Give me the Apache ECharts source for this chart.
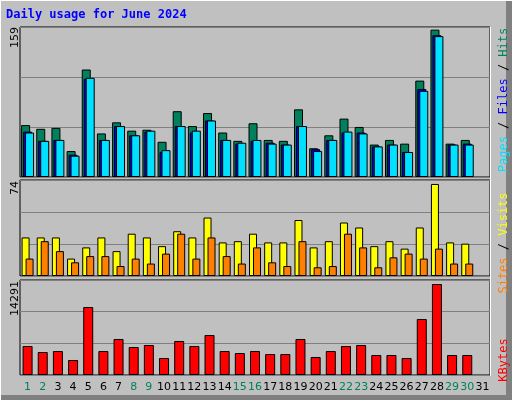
<!DOCTYPE html>
<html><head><meta charset="utf-8">
<script src="https://cdn.jsdelivr.net/npm/echarts@6/dist/echarts.min.js"></script>
<style>html,body{margin:0;padding:0;background:#C0C0C0}#c{width:512px;height:400px}</style>
</head><body><div id="c"></div>
<script>
'use strict';

const days = Array.from({ length: 31 }, (_, i) => String(i + 1));
const weekends = [1, 2, 8, 9, 15, 16, 22, 23, 29, 30];

const hits = [56, 52, 53, 28, 116, 47, 59, 50, 51, 38, 71, 55, 69, 48, 39, 58, 40, 39, 73, 31, 45, 63, 54, 35, 40, 36, 104, 159, 36, 40, null];
const files = [49, 39, 40, 24, 106, 40, 55, 45, 49, 27, 55, 48, 61, 40, 36, 39, 37, 35, 55, 30, 40, 48, 48, 33, 35, 27, 95, 153, 35, 36, null];
const pages = [48, 39, 40, 23, 107, 40, 55, 45, 50, 29, 55, 50, 61, 40, 37, 40, 36, 35, 55, 28, 40, 49, 47, 33, 35, 27, 93, 152, 35, 35, null];
const visits = [31, 31, 31, 14, 23, 31, 20, 34, 31, 24, 36, 31, 47, 27, 28, 34, 27, 27, 45, 23, 28, 43, 39, 24, 28, 22, 39, 74, 27, 26, null];
const sites = [14, 28, 20, 11, 16, 16, 8, 14, 10, 18, 34, 14, 31, 16, 10, 23, 11, 8, 28, 7, 8, 34, 23, 7, 15, 18, 14, 22, 10, 10, null];
const kbytes = [4554, 3612, 3769, 2356, 10679, 3769, 5654, 4397, 4712, 2670, 5340, 4554, 6282, 3769, 3455, 3769, 3298, 3298, 5654, 2827, 3769, 4554, 4712, 3141, 3141, 2670, 8795, 14291, 3141, 3141, null];

const maxTop = Math.max(...hits.filter((v) => v != null));
const maxMid = Math.max(...visits.filter((v) => v != null));
const maxBot = Math.max(...kbytes.filter((v) => v != null));

const font = 'DejaVu Sans Mono';
const edge = { color: '#000', width: 1 };

function xAxis(idx, showLabels) {
    return {
        type: 'category', gridIndex: idx, data: days,
        axisLine: { show: false }, axisTick: { show: false },
        axisLabel: {
            show: showLabels, interval: 0, fontSize: 11, fontFamily: 'DejaVu Sans', margin: 7,
            color: (v) => (weekends.includes(+v) ? '#00805c' : '#000'),
        },
    };
}

function yAxis(idx, max) {
    return {
        type: 'value', gridIndex: idx, min: 0, max: max, interval: max / 3,
        axisLabel: { show: false }, axisLine: { show: false }, axisTick: { show: false },
        splitLine: { lineStyle: { color: '#808080', width: 1 } },
    };
}

function bar(name, data, color, idx, width, gap) {
    return {
        name: name, type: 'bar', data: data, xAxisIndex: idx, yAxisIndex: idx,
        barWidth: width, barGap: gap, animation: false,
        itemStyle: { color: color, borderColor: '#000', borderWidth: 1 },
    };
}

function sideLabel(y, parts) {
    return {
        type: 'text', x: 504, y: y, rotation: Math.PI / 2,
        style: {
            text: parts.map((p, i) => '{s' + i + '|' + p[0] + '}').join(''),
            rich: Object.fromEntries(parts.map((p, i) => ['s' + i, { fill: p[1], fontFamily: font, fontSize: 12 }])),
            align: 'center', verticalAlign: 'middle',
        },
    };
}

function maxLabel(y, v) {
    return {
        type: 'text', x: 15, y: y, rotation: Math.PI / 2,
        style: { text: String(v), fill: '#000', fontFamily: 'DejaVu Sans', fontSize: 11, align: 'right', verticalAlign: 'middle' },
    };
}

const chart = echarts.init(document.getElementById('c'), null, { renderer: 'canvas' });
chart.setOption({
    backgroundColor: '#C0C0C0',
    animation: false,
    grid: [
        { left: 20, top: 27, width: 470, height: 150, show: true, backgroundColor: '#C0C0C0', borderColor: '#000' },
        { left: 20, top: 180, width: 470, height: 96, show: true, backgroundColor: '#C0C0C0', borderColor: '#000' },
        { left: 20, top: 280, width: 470, height: 95, show: true, backgroundColor: '#C0C0C0', borderColor: '#000' },
    ],
    xAxis: [xAxis(0, false), xAxis(1, false), xAxis(2, true)],
    yAxis: [yAxis(0, maxTop * 1.018), yAxis(1, maxMid * 1.043), yAxis(2, maxBot * 1.044)],
    series: [
        bar('Hits', hits, '#00805c', 0, 9, '-78%'),
        bar('Files', files, '#0000ff', 0, 9, '-78%'),
        bar('Pages', pages, '#00e0ff', 0, 9, '-78%'),
        bar('Visits', visits, '#ffff00', 1, 8, '-50%'),
        bar('Sites', sites, '#ff8000', 1, 8, '-50%'),
        bar('KBytes', kbytes, '#ff0000', 2, 10, '0%'),
    ],
    graphic: [
        { type: 'text', x: 6, y: 9, style: { text: 'Daily usage for June 2024', fill: '#0000ff', fontFamily: font, fontSize: 12, fontWeight: 'bold' } },
        { type: 'line', shape: { x1: 490.5, y1: 27, x2: 490.5, y2: 376 }, style: { stroke: '#fff', lineWidth: 1 } },
        { type: 'rect', shape: { x: 506, y: 0, width: 6, height: 400 }, style: { fill: '#808080' } },
        { type: 'rect', shape: { x: 0, y: 395, width: 512, height: 5 }, style: { fill: '#808080' } },
        { type: 'line', shape: { x1: 0.5, y1: 0, x2: 0.5, y2: 400 }, style: { stroke: '#fff', lineWidth: 1 } },
        { type: 'line', shape: { x1: 0, y1: 0.5, x2: 512, y2: 0.5 }, style: { stroke: '#fff', lineWidth: 1 } },
        maxLabel(27, maxTop),
        maxLabel(181, maxMid),
        maxLabel(281, maxBot),
        sideLabel(100, [['Pages', '#00e0ff'], [' / ', '#000'], ['Files', '#0000ff'], [' / ', '#000'], ['Hits', '#00805c']]),
        sideLabel(243, [['Sites', '#ff8000'], [' / ', '#000'], ['Visits', '#ffff00']]),
        sideLabel(360, [['KBytes', '#ff0000']]),
    ],
});
</script>
</body></html>
